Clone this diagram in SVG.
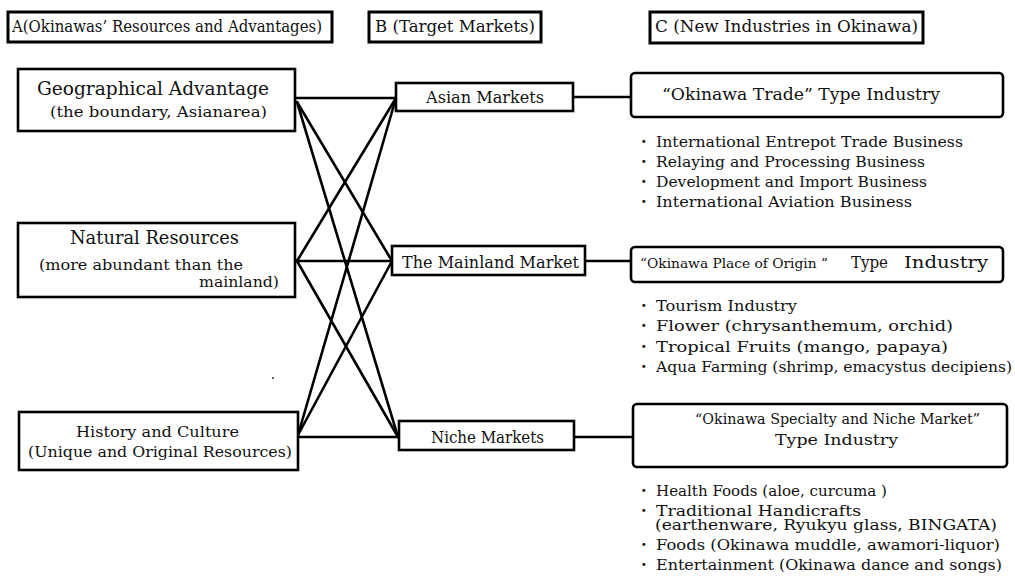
<svg xmlns="http://www.w3.org/2000/svg" width="1015" height="584" viewBox="0 0 1015 584">
<style>
.hdr{fill:#fff;stroke:#000;stroke-width:3}
.box{fill:#fff;stroke:#000;stroke-width:2.6}
.rbox{fill:#fff;stroke:#000;stroke-width:2.6}
.ln{stroke:#000;stroke-width:2.6;fill:none;stroke-linecap:round}
text{font-family:"DejaVu Serif","Liberation Serif",serif;fill:#111}
.h{font-size:16px}
.t{font-size:18px}
.s{font-size:15px}
.m{font-size:16px}
.n{font-size:14.5px}
.o{font-size:13px}
.b{font-size:14px}
.d{font-size:16px;font-weight:bold}
</style>
<rect width="1015" height="584" fill="#fff"/>
<g id="headers">
<g id="headerA"><rect class="hdr" x="8" y="12" width="324" height="30"/><text class="h" x="12" y="32" textLength="310" lengthAdjust="spacingAndGlyphs">A(Okinawas’ Resources and Advantages)</text></g>
<g id="headerB"><rect class="hdr" x="369" y="12" width="172" height="30"/><text class="h" x="375" y="32" textLength="160" lengthAdjust="spacingAndGlyphs">B (Target Markets)</text></g>
<g id="headerC"><rect class="hdr" x="650" y="12" width="273" height="31"/><text class="h" x="655" y="32" textLength="263" lengthAdjust="spacingAndGlyphs">C (New Industries in Okinawa)</text></g>
</g>
<g id="connectors">
<line class="ln" x1="295" y1="98" x2="396" y2="98"/>
<line class="ln" x1="297" y1="102" x2="392" y2="261"/>
<line class="ln" x1="297" y1="102" x2="398" y2="437"/>
<line class="ln" x1="295" y1="261" x2="392" y2="261"/>
<line class="ln" x1="297" y1="261" x2="396" y2="98"/>
<line class="ln" x1="297" y1="261" x2="398" y2="437"/>
<line class="ln" x1="298" y1="437" x2="398" y2="437"/>
<line class="ln" x1="298" y1="435" x2="396" y2="98"/>
<line class="ln" x1="298" y1="435" x2="392" y2="261"/>
<line class="ln" x1="573" y1="97" x2="631" y2="97"/>
<line class="ln" x1="585" y1="261" x2="631" y2="261"/>
<line class="ln" x1="574" y1="437" x2="633" y2="437"/>
</g>
<g id="nodeGeo"><rect class="box" x="18" y="69" width="277" height="62"/>
<text class="t" x="37" y="95" textLength="232" lengthAdjust="spacingAndGlyphs">Geographical Advantage</text>
<text class="s" x="50" y="117" textLength="217" lengthAdjust="spacingAndGlyphs">(the boundary, Asianarea)</text></g>
<g id="nodeNatural"><rect class="box" x="18" y="223" width="277" height="74"/>
<text class="t" x="70" y="244" textLength="169" lengthAdjust="spacingAndGlyphs">Natural Resources</text>
<text class="s" x="39" y="270" textLength="204" lengthAdjust="spacingAndGlyphs">(more abundant than the</text>
<text class="s" x="199" y="287" textLength="80" lengthAdjust="spacingAndGlyphs">mainland)</text></g>
<g id="nodeHistory"><rect class="box" x="19" y="412" width="279" height="58"/>
<text class="s" x="76" y="437" textLength="163" lengthAdjust="spacingAndGlyphs">History and Culture</text>
<text class="s" x="28" y="457" textLength="264" lengthAdjust="spacingAndGlyphs">(Unique and Original Resources)</text></g>
<g id="nodeAsian"><rect class="box" x="396" y="83" width="177" height="28"/>
<text class="m" x="426" y="103" textLength="118" lengthAdjust="spacingAndGlyphs">Asian Markets</text></g>
<g id="nodeMainland"><rect class="box" x="392" y="246" width="193" height="29"/>
<text class="m" x="402" y="268" textLength="177" lengthAdjust="spacingAndGlyphs">The Mainland Market</text></g>
<g id="nodeNiche"><rect class="box" x="399" y="421" width="175" height="29"/>
<text class="m" x="431" y="443" textLength="113" lengthAdjust="spacingAndGlyphs">Niche Markets</text></g>
<g id="nodeTrade"><rect class="rbox" x="631" y="73" width="372" height="44" rx="4"/>
<text class="m" x="662" y="100" textLength="278" lengthAdjust="spacingAndGlyphs">“Okinawa Trade” Type Industry</text>
<g class="b">
<text class="d" x="641" y="147">·</text><text x="656" y="147" textLength="307" lengthAdjust="spacingAndGlyphs">International Entrepot Trade Business</text>
<text class="d" x="641" y="167">·</text><text x="656" y="167" textLength="269" lengthAdjust="spacingAndGlyphs">Relaying and Processing Business</text>
<text class="d" x="641" y="187">·</text><text x="656" y="187" textLength="271" lengthAdjust="spacingAndGlyphs">Development and Import Business</text>
<text class="d" x="641" y="207">·</text><text x="656" y="207" textLength="256" lengthAdjust="spacingAndGlyphs">International Aviation Business</text>
</g></g>
<g id="nodeOrigin"><rect class="rbox" x="631" y="247" width="372" height="35" rx="4"/>
<text class="o" x="640" y="268" textLength="188" lengthAdjust="spacingAndGlyphs">“Okinawa Place of Origin ”</text>
<text class="m" x="851" y="268" textLength="37" lengthAdjust="spacingAndGlyphs">Type</text>
<text class="m" x="904" y="268" textLength="84" lengthAdjust="spacingAndGlyphs">Industry</text>
<g class="b">
<text class="d" x="641" y="311">·</text><text x="656" y="311" textLength="141" lengthAdjust="spacingAndGlyphs">Tourism Industry</text>
<text class="d" x="641" y="331">·</text><text x="656" y="331" textLength="297" lengthAdjust="spacingAndGlyphs">Flower (chrysanthemum, orchid)</text>
<text class="d" x="641" y="352">·</text><text x="656" y="352" textLength="292" lengthAdjust="spacingAndGlyphs">Tropical Fruits (mango, papaya)</text>
<text class="d" x="641" y="372">·</text><text x="656" y="372" textLength="356" lengthAdjust="spacingAndGlyphs">Aqua Farming (shrimp, emacystus decipiens)</text>
</g></g>
<g id="nodeSpecialty"><rect class="rbox" x="633" y="404" width="374" height="63" rx="4"/>
<text class="n" x="695" y="424" textLength="285" lengthAdjust="spacingAndGlyphs">“Okinawa Specialty and Niche Market”</text>
<text class="n" x="775" y="445" textLength="123" lengthAdjust="spacingAndGlyphs">Type Industry</text>
<g class="b">
<text class="d" x="641" y="496">·</text><text x="656" y="496" textLength="231" lengthAdjust="spacingAndGlyphs">Health Foods (aloe, curcuma )</text>
<text class="d" x="641" y="516">·</text><text x="656" y="516" textLength="205" lengthAdjust="spacingAndGlyphs">Traditional Handicrafts</text>
<text x="655" y="530" textLength="342" lengthAdjust="spacingAndGlyphs">(earthenware, Ryukyu glass, BINGATA)</text>
<text class="d" x="641" y="550">·</text><text x="656" y="550" textLength="344" lengthAdjust="spacingAndGlyphs">Foods (Okinawa muddle, awamori-liquor)</text>
<text class="d" x="641" y="570">·</text><text x="656" y="570" textLength="346" lengthAdjust="spacingAndGlyphs">Entertainment (Okinawa dance and songs)</text>
</g></g>
<circle cx="273" cy="378" r="1" fill="#333"/>
</svg>
